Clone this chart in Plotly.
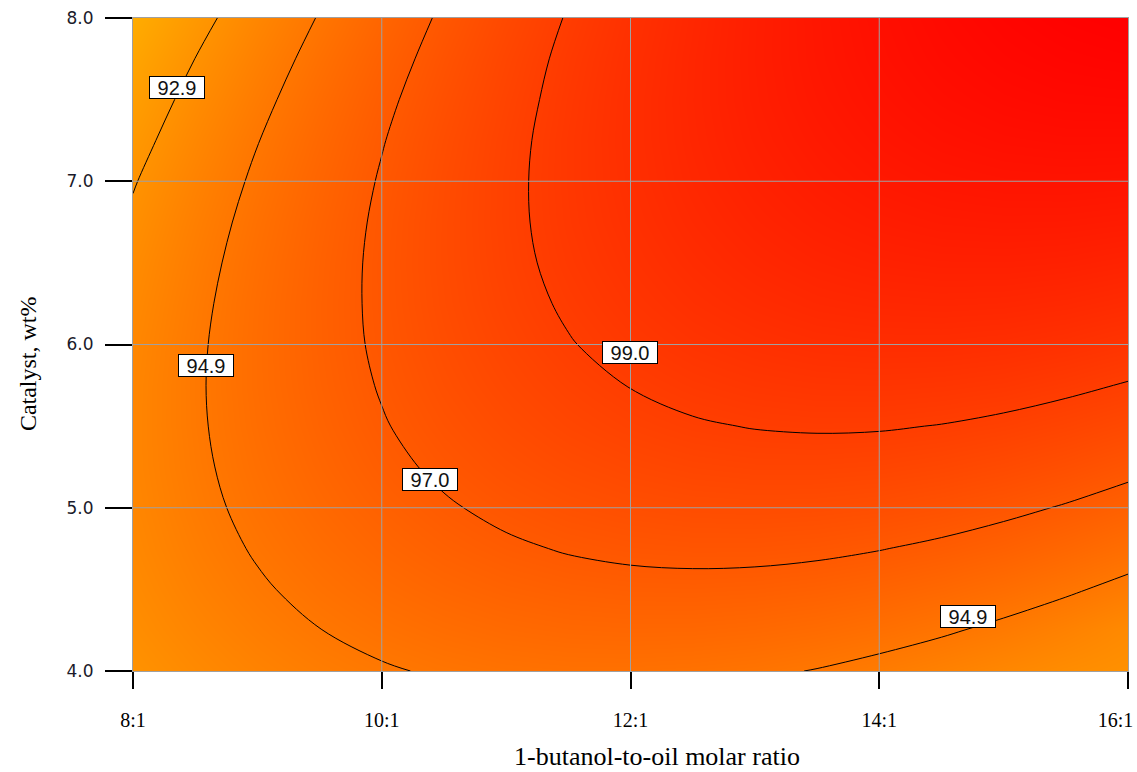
import plotly.graph_objects as go

# 1-butanol-to-oil molar ratio (x) and catalyst wt% (y) grid
ratio = [8.0, 8.5, 9.0, 9.5, 10.0, 10.5, 11.0, 11.5, 12.0, 12.5, 13.0, 13.5, 14.0, 14.5, 15.0, 15.5, 16.0]
catalyst = [4.0, 4.25, 4.5, 4.75, 5.0, 5.25, 5.5, 5.75, 6.0, 6.25, 6.5, 6.75, 7.0, 7.25, 7.5, 7.75, 8.0]

yield_pct = [
    [92.90, 93.50, 94.01, 94.44, 94.78, 95.04, 95.22, 95.31, 95.32, 95.24, 95.09, 94.85, 94.52, 94.13, 93.70, 93.30, 93.00],
    [93.20, 93.84, 94.40, 94.88, 95.27, 95.58, 95.81, 95.95, 96.01, 95.99, 95.88, 95.69, 95.42, 95.06, 94.62, 94.09, 93.48],
    [93.43, 94.13, 94.74, 95.27, 95.71, 96.07, 96.35, 96.54, 96.65, 96.68, 96.62, 96.48, 96.26, 95.95, 95.56, 95.09, 94.53],
    [93.61, 94.36, 95.02, 95.60, 96.09, 96.50, 96.83, 97.08, 97.24, 97.31, 97.31, 97.22, 97.04, 96.79, 96.45, 96.02, 95.52],
    [93.74, 94.54, 95.25, 95.88, 96.42, 96.88, 97.26, 97.56, 97.77, 97.90, 97.94, 97.90, 97.78, 97.57, 97.28, 96.91, 96.45],
    [93.82, 94.66, 95.42, 96.10, 96.70, 97.21, 97.64, 97.98, 98.24, 98.42, 98.52, 98.53, 98.46, 98.30, 98.06, 97.74, 97.33],
    [93.83, 94.73, 95.54, 96.27, 96.92, 97.48, 97.96, 98.36, 98.67, 98.90, 99.04, 99.10, 99.08, 98.97, 98.78, 98.51, 98.16],
    [93.80, 94.75, 95.61, 96.39, 97.08, 97.70, 98.23, 98.67, 99.03, 99.31, 99.51, 99.62, 99.65, 99.59, 99.46, 99.23, 98.93],
    [93.71, 94.71, 95.62, 96.45, 97.20, 97.86, 98.44, 98.94, 99.35, 99.68, 99.92, 100.09, 100.16, 100.16, 100.07, 99.90, 99.64],
    [93.56, 94.61, 95.58, 96.46, 97.25, 97.97, 98.60, 99.14, 99.61, 99.99, 100.28, 100.50, 100.62, 100.67, 100.63, 100.51, 100.31],
    [93.37, 94.46, 95.48, 96.41, 97.26, 98.02, 98.70, 99.30, 99.81, 100.24, 100.59, 100.85, 101.03, 101.13, 101.14, 101.07, 100.91],
    [93.11, 94.26, 95.33, 96.31, 97.21, 98.02, 98.75, 99.40, 99.96, 100.44, 100.84, 101.15, 101.38, 101.53, 101.59, 101.57, 101.47],
    [92.81, 94.01, 95.12, 96.15, 97.10, 97.97, 98.75, 99.44, 100.06, 100.59, 101.04, 101.40, 101.68, 101.88, 101.99, 102.02, 101.97],
    [92.44, 93.69, 94.86, 95.94, 96.94, 97.86, 98.69, 99.44, 100.10, 100.68, 101.18, 101.59, 101.92, 102.17, 102.34, 102.42, 102.41],
    [92.03, 93.33, 94.54, 95.68, 96.73, 97.69, 98.57, 99.37, 100.09, 100.72, 101.27, 101.73, 102.11, 102.41, 102.63, 102.76, 102.80],
    [91.56, 92.91, 94.17, 95.36, 96.46, 97.47, 98.41, 99.26, 100.02, 100.70, 101.30, 101.82, 102.25, 102.60, 102.86, 103.04, 103.14],
    [91.03, 92.43, 93.75, 94.98, 96.13, 97.20, 98.18, 99.08, 99.90, 100.63, 101.28, 101.85, 102.33, 102.73, 103.04, 103.27, 103.42],
]

contour_levels = [92.9, 94.9, 97.0, 99.0]

x_tickvals = [8, 10, 12, 14, 16]
x_ticktext = ["8:1", "10:1", "12:1", "14:1", "16:1\u00a0\u00a0\u00a0\u00a0\u00a0"]
y_tickvals = [4, 5, 6, 7, 8]
y_ticktext = ["4.0", "5.0", "6.0", "7.0", "8.0"]

# contour label boxes: (level, placement)
label_levels = [92.9, 94.9, 97.0, 99.0, 94.9]
label_places = [(8.354, 7.577), (8.587, 5.874), (10.388, 5.173), (11.992, 5.951), (14.714, 4.331)]

fig = go.Figure()

fig.add_trace(go.Heatmap(
    x=ratio, y=catalyst, z=yield_pct, zsmooth="best", showscale=False,
    colorscale=[[0, "rgb(255,172,0)"], [1, "rgb(255,0,0)"]],
    hoverinfo="skip"))

# grid lines drawn above the colour fill
gx, gy = [], []
for xv in x_tickvals[1:-1]:
    gx += [xv, xv, None]
    gy += [y_tickvals[0], y_tickvals[-1], None]
for yv in y_tickvals[1:-1]:
    gx += [x_tickvals[0], x_tickvals[-1], None]
    gy += [yv, yv, None]
fig.add_trace(go.Scatter(x=gx, y=gy, mode="lines", line=dict(color="#a0a0a0", width=1),
                         hoverinfo="skip", showlegend=False))

for lev in contour_levels:
    fig.add_trace(go.Contour(
        x=ratio, y=catalyst, z=yield_pct, showscale=False,
        contours=dict(start=lev, end=lev, size=1, coloring="none"),
        line=dict(color="black", width=1, smoothing=1),
        hoverinfo="skip"))

annotations = []
for lev, (lx, ly) in zip(label_levels, label_places):
    annotations.append(dict(
        x=lx, y=ly, xref="x", yref="y", text=f"{lev:.1f}", showarrow=False,
        font=dict(family="Liberation Sans", size=20, color="#111111"),
        bgcolor="white", bordercolor="black", borderwidth=1, borderpad=1,
        width=52, height=19, align="center"))

annotations.append(dict(
    x=0.527, y=-0.131, xref="paper", yref="paper", xanchor="center", yanchor="middle",
    text="1-butanol-to-oil molar ratio", showarrow=False,
    font=dict(family="Liberation Serif", size=26, color="black")))
annotations.append(dict(
    x=-0.1055, y=0.47, xref="paper", yref="paper", xanchor="center", yanchor="middle",
    text="Catalyst, wt%", showarrow=False, textangle=-90,
    font=dict(family="Liberation Serif", size=24, color="black")))

fig.update_layout(
    width=1137, height=772,
    margin=dict(l=133, r=9, t=18, b=101, autoexpand=False),
    plot_bgcolor="white", paper_bgcolor="white",
    showlegend=False,
    annotations=annotations,
    xaxis=dict(range=[8, 16], tickvals=x_tickvals, ticktext=x_ticktext,
               showgrid=False, zeroline=False, showline=True, linecolor="#a0a0a0",
               linewidth=1, mirror=True, ticks="outside", ticklen=17, tickwidth=1.5,
               tickcolor="black", layer="above traces", ticklabelstandoff=14,
               ticklabeloverflow="allow", automargin=False,
               tickfont=dict(family="Liberation Serif", size=20, color="black")),
    yaxis=dict(range=[4, 8], tickvals=y_tickvals, ticktext=y_ticktext,
               showgrid=False, zeroline=False, showline=True, linecolor="#a0a0a0",
               linewidth=1, mirror=True, ticks="outside", ticklen=27, tickwidth=1.5,
               tickcolor="black", layer="above traces", ticklabelstandoff=8,
               ticklabeloverflow="allow", automargin=False,
               tickfont=dict(family="DejaVu Sans", size=17, color="#1a1a2a")),
)

fig.write_html("out.html")
